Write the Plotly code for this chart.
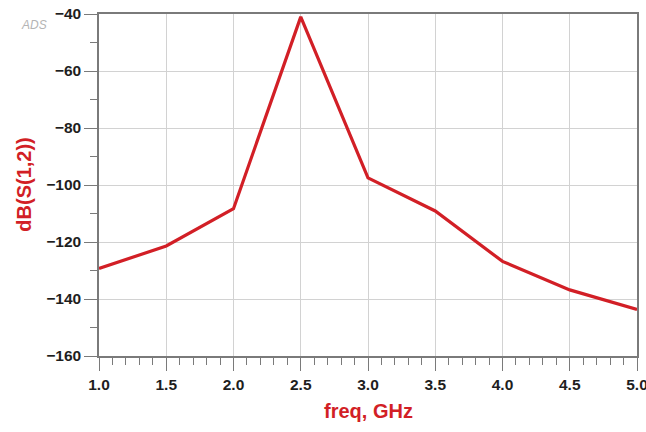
import plotly.graph_objects as go

# S(1,2) magnitude vs frequency
freq_ghz = [1.0, 1.5, 2.0, 2.5, 3.0, 3.5, 4.0, 4.5, 5.0]
s12_db = [-129.3, -121.4, -108.3, -41.0, -97.5, -109.1, -126.8, -136.8, -143.7]

x_ticks = [1.0, 1.5, 2.0, 2.5, 3.0, 3.5, 4.0, 4.5, 5.0]
x_tick_text = ["1.0", "1.5", "2.0", "2.5", "3.0", "3.5", "4.0", "4.5", "5.0"]
y_ticks = [-160, -140, -120, -100, -80, -60, -40]

RED = "#d21f26"
AXIS = "#7a7a7a"
GRID = "#d2d2d2"
tick_font = dict(family="Liberation Sans, Arial, sans-serif", size=15.5, color="#1e1e1e", weight="bold")
title_font = dict(family="Liberation Sans, Arial, sans-serif", size=20, color=RED, weight="bold")

fig = go.Figure()
fig.add_trace(go.Scatter(
    x=freq_ghz, y=s12_db, mode="lines",
    line=dict(color=RED, width=3.2),
    hoverinfo="skip", showlegend=False,
))

fig.update_xaxes(
    range=[1.0, 5.0], tickvals=x_ticks, ticktext=x_tick_text,
    showline=True, linecolor=AXIS, linewidth=1.5, mirror=True,
    showgrid=True, gridcolor=GRID, gridwidth=1,
    ticks="outside", ticklen=13, tickcolor=AXIS, tickwidth=1.3,
    minor=dict(dtick=0.1, ticks="outside", ticklen=7, tickcolor=AXIS, tickwidth=1, showgrid=False),
    tickfont=tick_font, ticklabelstandoff=1, ticklabeloverflow="allow",
    zeroline=False, automargin=False,
)
fig.update_yaxes(
    range=[-160, -40], tickvals=y_ticks,
    showline=True, linecolor=AXIS, linewidth=1.5, mirror=True,
    showgrid=True, gridcolor=GRID, gridwidth=1,
    ticks="outside", ticklen=13, tickcolor=AXIS, tickwidth=1.3,
    minor=dict(dtick=10, ticks="outside", ticklen=7, tickcolor=AXIS, tickwidth=1, showgrid=False),
    tickfont=tick_font, ticklabeloverflow="allow", zeroline=False, automargin=False,
)

fig.add_annotation(
    text="freq, GHz", xref="paper", yref="paper", x=0.5, y=-0.16,
    xanchor="center", yanchor="middle", showarrow=False, font=title_font,
)
fig.add_annotation(
    text="dB(S(1,2))", xref="paper", yref="paper", x=-0.14, y=0.5,
    xanchor="center", yanchor="middle", textangle=-90, showarrow=False, font=title_font,
)
fig.add_annotation(
    text="ADS", xref="paper", yref="paper", x=-0.12, y=0.968,
    xanchor="center", yanchor="middle", showarrow=False,
    font=dict(family="Liberation Sans, Arial, sans-serif", size=12, color="#b4b4b4", style="italic"),
)

fig.update_layout(
    width=646, height=432,
    margin=dict(l=99, r=9, t=14, b=76),
    paper_bgcolor="white", plot_bgcolor="white",
)

fig.write_html("out.html")
